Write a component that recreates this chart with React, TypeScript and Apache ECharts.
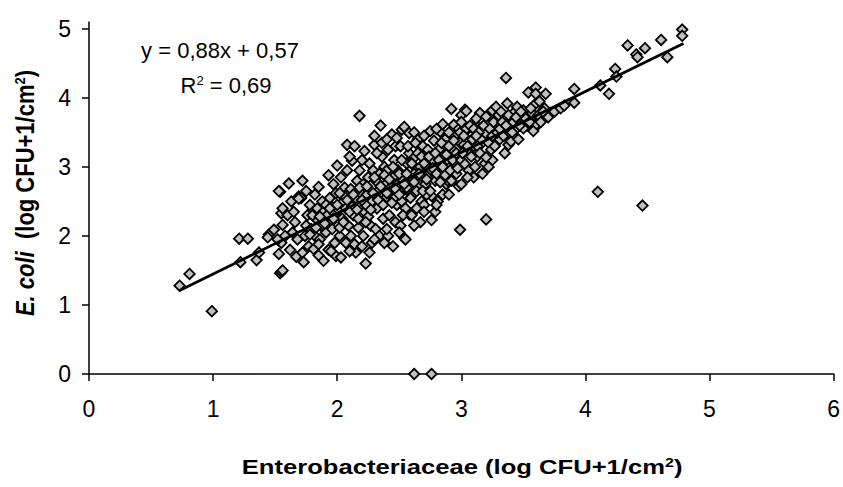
import React, { useEffect, useRef } from "react";
import * as echarts from "echarts";

// Enterobacteriaceae (x) vs E. coli (y), log CFU+1/cm2
const lowTail: [number, number][] = [
  [0.73, 1.28], [0.81, 1.45], [0.99, 0.91], [1.21, 1.96], [1.28, 1.96], [1.22, 1.62],
  [1.35, 1.65], [1.37, 1.76], [1.45, 2.02], [1.49, 2.09], [1.44, 1.98],
  [1.54, 1.46], [1.54, 2.64], [1.55, 2.33], [1.55, 1.48], [1.56, 1.5],
];

const cloudLeft: [number, number][] = [
  [1.53, 1.74], [1.55, 1.9], [1.58, 2.0], [1.56, 2.16], [1.56, 2.4], [1.53, 2.65], [1.6, 2.3], [1.52, 1.95],
  [1.61, 2.76], [1.62, 1.8], [1.64, 2.05], [1.66, 2.2], [1.68, 1.95], [1.69, 2.57], [1.65, 2.35], [1.67, 1.7], [1.63, 2.5],
  [1.72, 2.8], [1.72, 1.76], [1.73, 1.62], [1.74, 2.0], [1.75, 2.15], [1.76, 2.3], [1.78, 2.45], [1.71, 2.55],
  [1.77, 1.85], [1.79, 2.1], [1.75, 2.65], [1.69, 2.54],
  [1.81, 1.81], [1.82, 2.0], [1.83, 2.25], [1.85, 2.71], [1.84, 2.4], [1.86, 1.95], [1.87, 2.15], [1.88, 2.5],
  [1.89, 1.64], [1.89, 2.35], [1.85, 1.72], [1.82, 2.6], [1.8, 2.3],
  [1.91, 2.05], [1.92, 2.3], [1.93, 1.8], [1.94, 2.55], [1.95, 2.2], [1.96, 2.42], [1.97, 2.75], [1.98, 1.9],
  [1.99, 1.71], [1.99, 2.62], [1.93, 2.88], [1.96, 2.1], [1.91, 2.45], [1.98, 2.32],
  [2.0, 3.02], [2.03, 1.69], [2.02, 2.0], [2.04, 2.25], [2.05, 2.5], [2.06, 2.7], [2.07, 1.9], [2.08, 3.32],
  [2.01, 2.38], [2.03, 2.85], [2.09, 2.15], [2.06, 2.58], [2.08, 2.95], [2.02, 2.12], [2.07, 2.4],
  [2.12, 3.09], [2.14, 3.3], [2.15, 1.76], [2.18, 3.74], [2.11, 2.0], [2.13, 2.3], [2.15, 2.55], [2.16, 2.8],
  [2.17, 2.12], [2.19, 2.45], [2.11, 2.68], [2.18, 2.95], [2.14, 1.88], [2.19, 2.62], [2.12, 2.42], [2.17, 2.25],
  [2.22, 3.23], [2.23, 1.6], [2.26, 1.76], [2.3, 3.32], [2.21, 2.0], [2.22, 2.35], [2.24, 2.6], [2.25, 2.85],
  [2.27, 2.15], [2.28, 2.5], [2.29, 2.95], [2.21, 2.75], [2.26, 3.05], [2.28, 1.9], [2.23, 2.45], [2.25, 2.28],
];

const cloudMiddle: [number, number][] = [
  [2.35, 3.6], [2.38, 1.9], [2.31, 2.1], [2.32, 2.4], [2.33, 2.65], [2.34, 2.9], [2.36, 3.15], [2.37, 2.25],
  [2.39, 2.55], [2.31, 2.8], [2.36, 3.35], [2.38, 3.0], [2.34, 2.0], [2.39, 2.75], [2.32, 3.2], [2.35, 2.5],
  [2.44, 3.47], [2.41, 2.0], [2.42, 2.3], [2.43, 2.6], [2.45, 2.85], [2.46, 3.1], [2.47, 2.2], [2.48, 2.45],
  [2.49, 2.75], [2.41, 3.25], [2.45, 1.85], [2.47, 3.3], [2.49, 2.95], [2.43, 2.7], [2.4, 2.95], [2.46, 2.55],
  [2.52, 3.54], [2.54, 3.58], [2.58, 3.49], [2.54, 1.97], [2.55, 1.95], [2.58, 2.31], [2.51, 2.15], [2.52, 2.5],
  [2.53, 2.8], [2.56, 3.05], [2.57, 2.65], [2.59, 2.95], [2.51, 3.3], [2.55, 2.4], [2.58, 3.2], [2.6, 2.85],
  [2.53, 2.3], [2.56, 2.7],
  [2.64, 2.4], [2.61, 2.6], [2.62, 2.9], [2.63, 3.15], [2.65, 3.4], [2.66, 2.75], [2.67, 3.0], [2.68, 2.5],
  [2.69, 3.3], [2.62, 3.5], [2.67, 2.2], [2.65, 3.2], [2.6, 2.3], [2.64, 2.65],
  [2.75, 3.52], [2.76, 2.23], [2.79, 2.35], [2.76, 2.58], [2.71, 2.75], [2.72, 3.0], [2.73, 3.25], [2.74, 2.9],
  [2.77, 3.1], [2.78, 3.38], [2.7, 2.45], [2.79, 2.8], [2.72, 2.6], [2.76, 2.95],
  [2.83, 3.51], [2.88, 2.75], [2.89, 2.8], [2.81, 3.0], [2.82, 3.25], [2.84, 2.9], [2.86, 3.15], [2.87, 3.4],
  [2.85, 2.6], [2.89, 3.05], [2.81, 2.5], [2.88, 3.3], [2.83, 2.78], [2.86, 3.0],
  [2.92, 3.84], [2.94, 3.61], [2.98, 2.72], [2.99, 2.09], [2.91, 3.0], [2.93, 3.25], [2.95, 3.45], [2.96, 2.9],
  [2.97, 3.15], [2.92, 2.8], [2.99, 3.35], [2.95, 3.05], [2.9, 3.5], [2.98, 3.55],
];

const cloudCore: [number, number][] = [
  [1.78, 2.02], [1.83, 2.12], [1.86, 2.28], [1.9, 2.18], [1.94, 2.4], [1.97, 2.25], [2.0, 2.45], [2.02, 2.62],
  [2.05, 2.2], [2.08, 2.52], [2.1, 2.35], [2.13, 2.6], [2.16, 2.38], [2.18, 2.7], [2.2, 2.52], [2.23, 2.2],
  [2.24, 2.72], [2.27, 2.38], [2.29, 2.62], [2.3, 2.85], [2.33, 2.52], [2.35, 2.72], [2.37, 2.45], [2.38, 2.88],
  [2.4, 2.62], [2.42, 2.82], [2.44, 2.48], [2.45, 3.0], [2.47, 2.68], [2.5, 2.9], [2.5, 2.6], [2.52, 3.1],
  [2.54, 2.75], [2.56, 2.9], [2.57, 3.3], [2.59, 2.55], [2.6, 3.05], [2.62, 2.78], [2.63, 3.35], [2.66, 2.9],
  [2.68, 3.15], [2.69, 2.65], [2.7, 3.05], [2.72, 2.82], [2.74, 3.15], [2.75, 2.65], [2.77, 2.98], [2.79, 3.2],
  [2.8, 2.9], [2.82, 3.1], [2.84, 3.35], [2.85, 3.0], [2.87, 2.88], [2.88, 3.18], [2.9, 3.3], [2.91, 2.95],
  [2.93, 3.1], [2.94, 3.38], [2.96, 3.2], [2.97, 2.98], [2.99, 3.5], [3.0, 3.1], [3.02, 3.32], [3.04, 3.55],
  [3.06, 3.2], [3.08, 3.45], [3.1, 3.3], [3.11, 3.62], [3.13, 3.15], [3.15, 3.55], [3.17, 3.35], [3.19, 3.48],
  [3.21, 3.62], [3.23, 3.4], [3.25, 3.7], [3.27, 3.52], [3.29, 3.65], [3.31, 3.4], [3.33, 3.55], [3.35, 3.72],
  [3.37, 3.48], [3.39, 3.65], [3.42, 3.78], [3.44, 3.55], [3.47, 3.7], [3.5, 3.82], [3.53, 3.6], [3.56, 3.72],
  [3.59, 3.9], [3.62, 3.62], [3.67, 3.85], [3.72, 3.78],
  [2.3, 3.45], [2.4, 3.4], [2.48, 3.42], [2.7, 3.45], [2.8, 3.55], [2.85, 3.62], [3.0, 3.75], [3.15, 3.78],
  [3.25, 3.82], [2.2, 3.1], [2.1, 3.15],
  [2.1, 1.78], [2.2, 1.85], [2.3, 1.95], [2.4, 2.1], [2.5, 2.05], [2.62, 2.15], [2.7, 2.35], [2.8, 2.45],
  [2.9, 2.6], [3.0, 2.75], [3.1, 2.85], [3.25, 3.1], [3.35, 3.2], [1.95, 1.78], [1.85, 1.88],
];

const cloudRight: [number, number][] = [
  [3.03, 3.83], [3.04, 3.81], [3.03, 3.04], [3.01, 3.2], [3.02, 3.45], [3.05, 3.3], [3.06, 2.95], [3.07, 3.6],
  [3.08, 3.15], [3.09, 3.4], [3.05, 2.85], [3.1, 3.55], [3.0, 3.65],
  [3.12, 3.7], [3.11, 3.0], [3.13, 3.3], [3.14, 3.5], [3.15, 3.2], [3.16, 3.4], [3.18, 3.6], [3.19, 3.05],
  [3.2, 3.14], [3.2, 3.73], [3.2, 2.24], [3.17, 2.9], [3.12, 3.45],
  [3.22, 3.35], [3.23, 3.55], [3.24, 3.25], [3.25, 3.45], [3.26, 3.65], [3.27, 3.3], [3.28, 3.87], [3.29, 3.5],
  [3.22, 3.0], [3.3, 3.75],
  [3.36, 4.29], [3.37, 3.92], [3.38, 3.75], [3.38, 3.32], [3.4, 3.37], [3.31, 3.55], [3.33, 3.65], [3.34, 3.45],
  [3.36, 3.6], [3.39, 3.5], [3.32, 3.8],
  [3.45, 3.87], [3.5, 3.56], [3.42, 3.65], [3.44, 3.72], [3.47, 3.6], [3.48, 3.8], [3.41, 3.5], [3.46, 3.4],
  [3.54, 4.08], [3.6, 4.15], [3.6, 4.06], [3.6, 3.61], [3.52, 3.7], [3.55, 3.65], [3.57, 3.78], [3.58, 3.52],
  [3.56, 3.85], [3.68, 4.06], [3.65, 3.71], [3.62, 3.75], [3.64, 3.65], [3.66, 3.8], [3.7, 3.72], [3.63, 3.95],
];

const highTail: [number, number][] = [
  [3.75, 3.8], [3.8, 3.85], [3.83, 3.89], [3.91, 4.13], [3.91, 3.93], [4.12, 4.18], [4.19, 4.06],
  [4.24, 4.42], [4.25, 4.31], [4.34, 4.76], [4.41, 4.63], [4.42, 4.59], [4.48, 4.72], [4.61, 4.84],
  [4.66, 4.59], [4.78, 4.99], [4.78, 4.9],
];

const outliers: [number, number][] = [
  [4.1, 2.64], [4.46, 2.44], [2.62, 0], [2.76, 0],
];

// Linear trend line y = 0,88x + 0,57 drawn across the data range
const trendLine: [number, number][] = [[0.73, 1.21], [4.79, 4.79]];

const xTicks = [0, 1, 2, 3, 4, 5, 6];
const yTicks = [0, 1, 2, 3, 4, 5];

const FONT = 'Arial, "Liberation Sans", sans-serif';

export default function App() {
  const ref = useRef<HTMLDivElement>(null);
  useEffect(() => {
    if (!ref.current) return;
    const chart = echarts.init(ref.current, null, { renderer: "svg" });
    const allPoints = [
      ...lowTail, ...cloudLeft, ...cloudMiddle, ...cloudCore, ...cloudRight, ...highTail, ...outliers,
    ];
    chart.setOption({
      animation: false,
      backgroundColor: "#ffffff",
      grid: { left: 89, right: 8, top: 22, bottom: 113, containLabel: false },
      xAxis: {
        type: "value",
        min: 0,
        max: 6,
        interval: 1,
        axisLine: { onZero: false, lineStyle: { color: "#000", width: 1.5 } },
        axisTick: { show: true, length: 7, lineStyle: { color: "#000", width: 1.5 }, customValues: xTicks },
        axisLabel: { color: "#000", fontSize: 23, fontFamily: FONT, margin: 23, customValues: xTicks },
        splitLine: { show: false },
      },
      yAxis: {
        type: "value",
        min: 0,
        max: 5.1,
        axisLine: { show: true, onZero: false, lineStyle: { color: "#000", width: 1.5 } },
        axisTick: { show: true, length: 7, lineStyle: { color: "#000", width: 1.5 }, customValues: yTicks },
        axisLabel: { color: "#000", fontSize: 23, fontFamily: FONT, margin: 18, customValues: yTicks },
        splitLine: { show: false },
      },
      series: [
        {
          type: "scatter",
          data: allPoints,
          symbol: "diamond",
          symbolSize: 10.5,
          itemStyle: { color: "#c0c0c0", borderColor: "#000", borderWidth: 1.8, opacity: 1 },
          z: 2,
        },
        {
          type: "line",
          data: trendLine,
          symbol: "none",
          lineStyle: { color: "#000", width: 2.8 },
          z: 3,
        },
      ],
      graphic: [
        {
          type: "text",
          x: 220,
          y: 50,
          style: {
            text: "y = 0,88x + 0,57",
            font: `22px ${FONT}`,
            fill: "#000",
            textAlign: "center",
            textVerticalAlign: "middle",
          },
        },
        {
          type: "text",
          x: 226,
          y: 85,
          style: {
            text: "{n|R}{s|2}{n| = 0,69}",
            fill: "#000",
            textAlign: "center",
            textVerticalAlign: "middle",
            rich: {
              n: { fontSize: 22, fontFamily: FONT, fill: "#000" },
              s: { fontSize: 13, fontFamily: FONT, fill: "#000", verticalAlign: "top" },
            },
          },
        },
        {
          type: "text",
          x: 462,
          y: 467,
          scaleX: 1.22,
          style: {
            text: "{b|Enterobacteriaceae (log CFU+1/cm}{s|2}{b|)}",
            fill: "#000",
            textAlign: "center",
            textVerticalAlign: "middle",
            rich: {
              b: { fontSize: 21, fontWeight: "bold", fontFamily: FONT, fill: "#000" },
              s: { fontSize: 13, fontWeight: "bold", fontFamily: FONT, fill: "#000", verticalAlign: "top" },
            },
          },
        },
        {
          type: "text",
          x: 25,
          y: 193,
          rotation: Math.PI / 2,
          scaleY: 1.15,
          style: {
            text: "{i|E. coli}{b|  (log CFU+1/cm}{s|2}{b|)}",
            fill: "#000",
            textAlign: "center",
            textVerticalAlign: "middle",
            rich: {
              i: { fontSize: 22, fontWeight: "bold", fontStyle: "italic", fontFamily: FONT, fill: "#000" },
              b: { fontSize: 22, fontWeight: "bold", fontFamily: FONT, fill: "#000" },
              s: { fontSize: 13, fontWeight: "bold", fontFamily: FONT, fill: "#000", verticalAlign: "top" },
            },
          },
        },
      ],
    });
    return () => chart.dispose();
  }, []);
  return (
    <div
      ref={ref}
      style={{ position: "fixed", left: 0, top: 0, width: 843, height: 487, background: "#fff" }}
    />
  );
}
